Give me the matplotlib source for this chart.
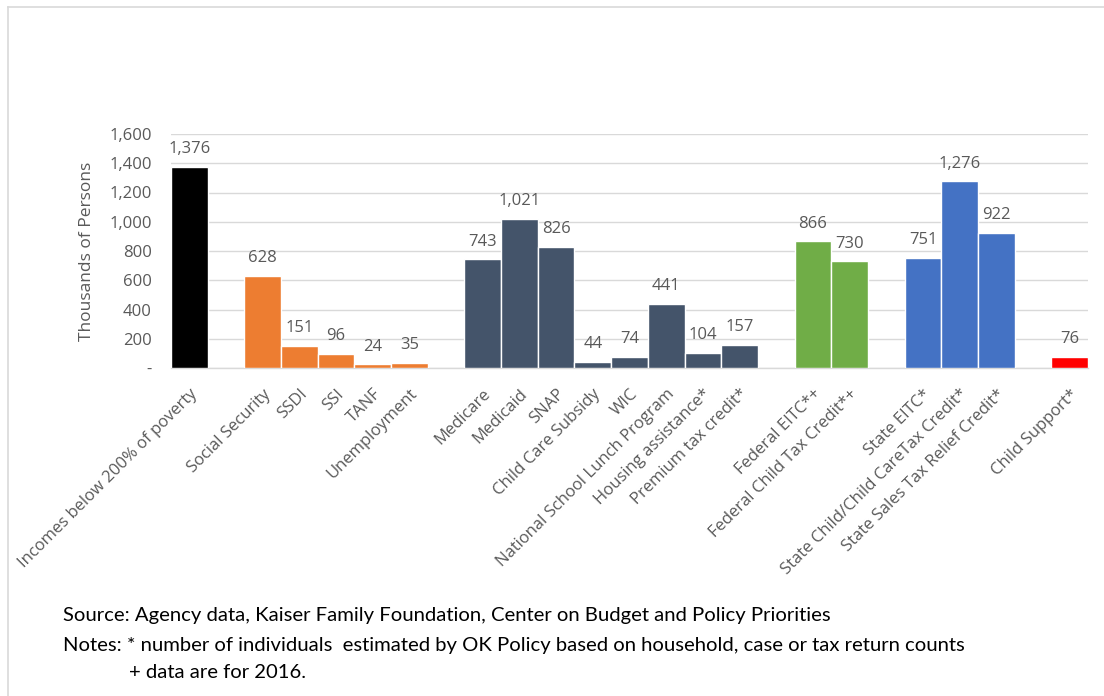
import matplotlib.pyplot as plt
from matplotlib.lines import Line2D

# program names, grouped; None marks an empty slot between groups
programs = [
    "Incomes below 200% of poverty", None,
    "Social Security", "SSDI", "SSI", "TANF", "Unemployment", None,
    "Medicare", "Medicaid", "SNAP", "Child Care Subsidy", "WIC",
    "National School Lunch Program", "Housing assistance*", "Premium tax credit*", None,
    "Federal EITC*+", "Federal Child Tax Credit*+", None,
    "State EITC*", "State Child/Child CareTax Credit*", "State Sales Tax Relief Credit*", None,
    "Child Support*",
]
persons = [
    1376, None,
    628, 151, 96, 24, 35, None,
    743, 1021, 826, 44, 74, 441, 104, 157, None,
    866, 730, None,
    751, 1276, 922, None,
    76,
]
group = [
    "income", None,
    "ss", "ss", "ss", "ss", "ss", None,
    "health", "health", "health", "health", "health", "health", "health", "health", None,
    "fed", "fed", None,
    "state", "state", "state", None,
    "child",
]
group_colors = {
    "income": "#000000",
    "ss": "#ED7D31",
    "health": "#44546A",
    "fed": "#70AD47",
    "state": "#4472C4",
    "child": "#FF0000",
}

txt = "#595959"
plt.rcParams["font.family"] = ["Open Sans", "DejaVu Sans"]

fig = plt.figure(figsize=(11.04, 6.96), dpi=100)
ax = fig.add_axes([171 / 1104, 1 - 368 / 696, (1088 - 171) / 1104, (368 - 134) / 696])

xs = [i for i, v in enumerate(persons) if v is not None]
vals = [persons[i] for i in xs]
cols = [group_colors[group[i]] for i in xs]
bars = ax.bar(xs, vals, width=1.0, color=cols, edgecolor="white", linewidth=1.0, zorder=3)

for b, v in zip(bars, vals):
    ax.annotate(f"{v:,}", (b.get_x() + b.get_width() / 2, v), xytext=(0, 7),
                textcoords="offset points", ha="center", va="bottom",
                fontsize=12, color=txt)

ax.set_xlim(-0.5, len(programs) - 0.5)
ax.set_ylim(0, 1600)
ax.set_yticks(range(0, 1601, 200))
ax.set_yticklabels(["-" if t == 0 else f"{t:,}" for t in range(0, 1601, 200)])
ax.set_xticks(xs)
ax.set_xticklabels([programs[i] for i in xs], rotation=45, ha="right",
                   rotation_mode="anchor")
ax.tick_params(axis="both", length=0, colors=txt, labelsize=12)
ax.tick_params(axis="x", pad=13)
ax.tick_params(axis="y", pad=14)
ax.grid(axis="y", color="#D9D9D9", linewidth=1.0, zorder=0)
for s in ["top", "right", "left"]:
    ax.spines[s].set_visible(False)
ax.spines["bottom"].set_color("#D9D9D9")
ax.spines["bottom"].set_linewidth(1.0)
ax.set_ylabel("Thousands of Persons", fontsize=12.5, color=txt, labelpad=10)

# chart area border (top and left)
fig.add_artist(Line2D([8 / 1104, 1.0], [1 - 7 / 696, 1 - 7 / 696], color="#D9D9D9", linewidth=1.2))
fig.add_artist(Line2D([8 / 1104, 8 / 1104], [0, 1 - 7 / 696], color="#D9D9D9", linewidth=1.2))

note_font = ["Lato", "DejaVu Sans"]
fig.text(63 / 1104, 1 - 615 / 696, "Source: Agency data, Kaiser Family Foundation, Center on Budget and Policy Priorities",
         fontsize=14.6, family=note_font, va="center", color="black")
fig.text(63 / 1104, 1 - 645 / 696, "Notes: * number of individuals  estimated by OK Policy based on household, case or tax return counts",
         fontsize=14.6, family=note_font, va="center", color="black")
fig.text(129 / 1104, 1 - 673 / 696, "+ data are for 2016.",
         fontsize=14.6, family=note_font, va="center", color="black")

fig.savefig("out.png", dpi=100, facecolor="white")
